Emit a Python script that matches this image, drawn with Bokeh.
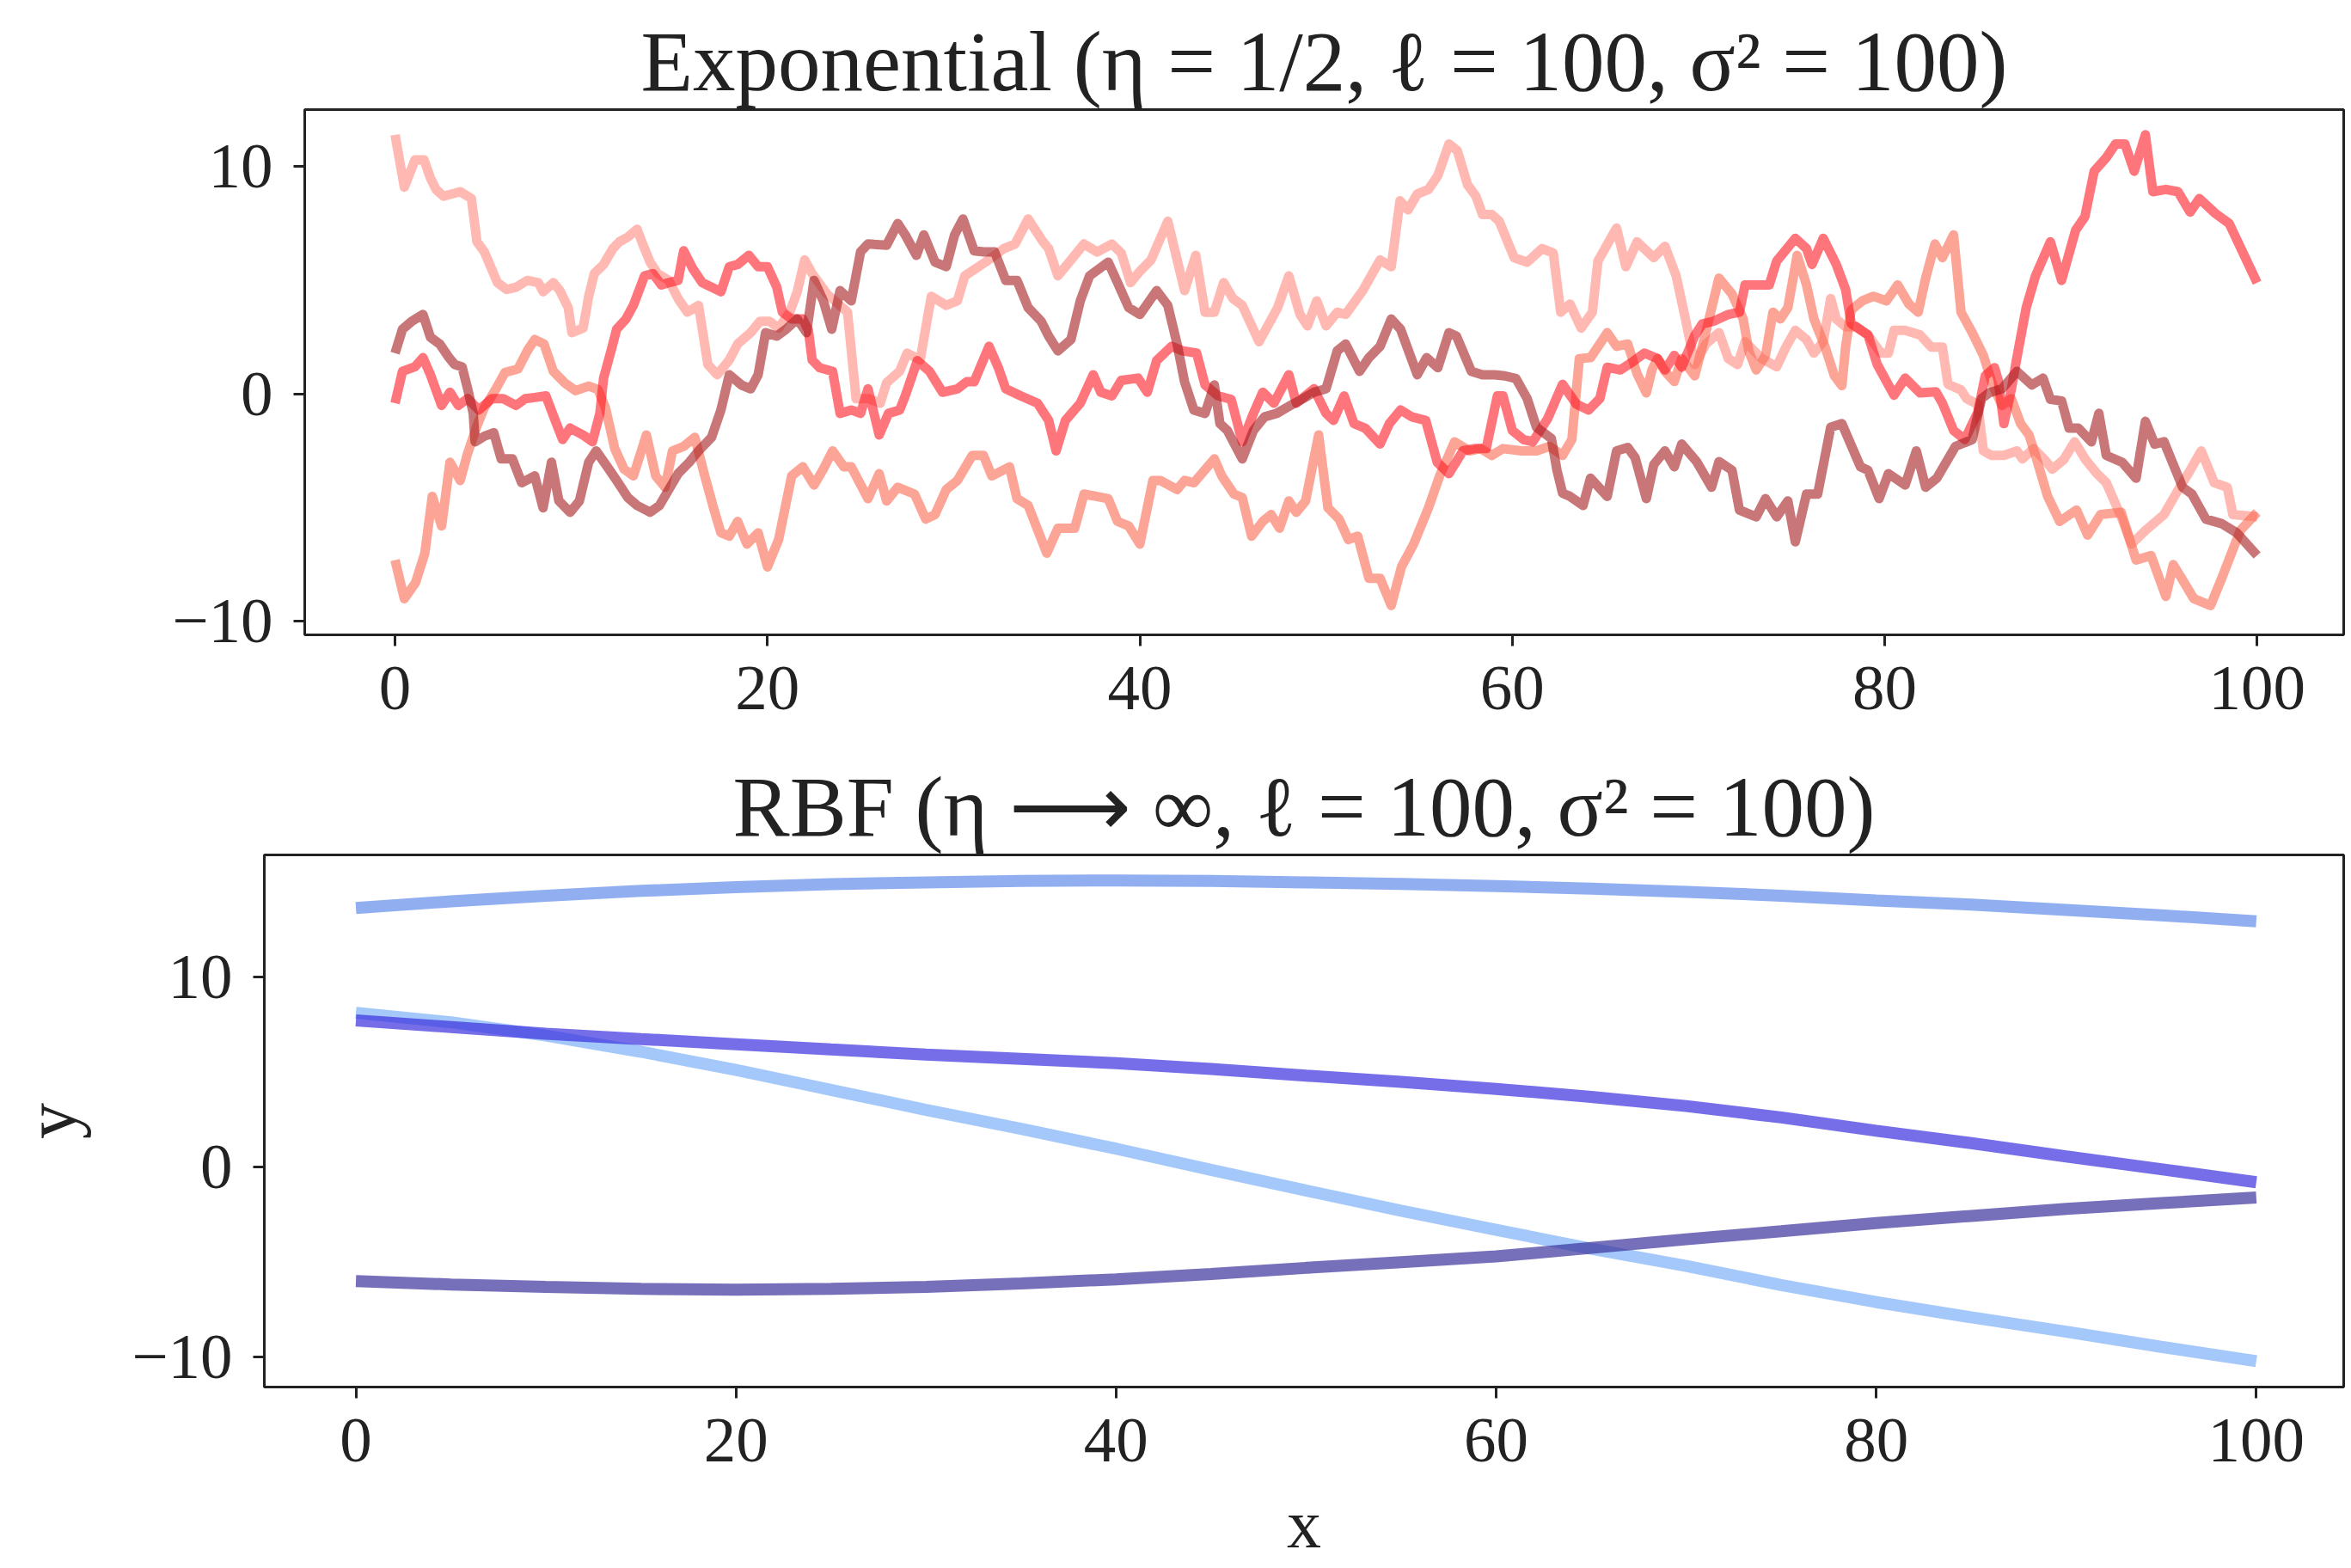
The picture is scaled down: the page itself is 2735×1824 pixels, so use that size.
from bokeh.plotting import figure
from bokeh.models import FixedTicker
from bokeh.embed import file_html
from bokeh.resources import INLINE

# ---------------- data: Exponential kernel samples (traced vertices) ----------------
exp_pink_x = [0, 0.5, 1.07, 1.56, 1.9, 2.2, 2.6, 3.5, 4.1, 4.4, 4.8, 5.5, 6.0, 6.5, 7.1, 7.7, 7.95, 8.5, 8.85, 9.3,
              9.5, 10.1, 10.4, 10.7, 11.2, 11.7, 12.05, 12.5, 13.0, 13.3, 13.7, 14.1, 14.7, 15.2, 15.7, 16.3, 16.8, 17.3, 17.95, 18.4,
              19.1, 19.6, 20.1, 20.6, 21.2, 21.6, 22.0, 22.4, 23.2, 24.3, 24.76, 25.4, 26.06, 26.4, 27.1, 27.5, 28.2, 28.8, 29.6, 30.2,
              30.6, 31.7, 32.7, 33.3, 34.0, 34.8, 35.1, 35.6, 36.2, 37.0, 37.7, 38.5, 39.0, 39.5, 40.0, 40.6, 41.5, 42.4, 43.0, 43.5,
              44.0, 44.5, 45.0, 45.5, 46.4, 47.4, 48.0, 48.6, 49.0, 49.5, 50.0, 50.6, 51.05, 51.97, 52.9, 53.5, 53.97, 54.4, 54.9, 55.5,
              56.0, 56.6, 57.05, 57.6, 58.05, 58.4, 58.9, 59.3, 59.8, 60.1, 60.8, 61.6, 62.2, 62.6, 63.1, 63.7, 64.3, 64.6, 65.6, 66.1,
              66.7, 67.6, 68.2, 68.8, 69.3, 69.8, 70.4, 71.1, 71.6, 72.1, 72.5, 73.4, 74.2, 74.7, 75.2, 75.8, 76.2, 76.7, 77.1, 77.4,
              77.9, 78.5, 79.1, 79.8, 80.2, 80.5, 81.1, 81.9, 82.5, 83.1, 83.4, 84.1, 84.4, 85.0, 85.3, 85.75, 86.4, 87.1, 87.4, 88.0,
              88.6, 89.0, 89.6, 90.2, 90.8, 91.4, 91.9, 92.75, 93.25, 94.0, 95.0, 95.7, 96.3, 97.0, 97.7, 98.4, 98.7, 100.0]
exp_pink_y = [11.4, 9.1, 10.3, 10.3, 9.5, 9.0, 8.7, 8.9, 8.6, 6.7, 6.25, 4.9, 4.6, 4.7, 5.0, 4.9, 4.5, 4.9, 4.55, 3.8,
              2.7, 2.9, 4.3, 5.3, 5.7, 6.4, 6.7, 6.9, 7.25, 6.6, 5.8, 5.3, 5.0, 4.2, 3.6, 3.9, 1.3, 0.85, 1.5, 2.2,
              2.7, 3.2, 3.2, 2.9, 3.6, 4.5, 5.9, 5.3, 4.4, 3.6, -0.2, -0.2, -0.4, 0.5, 1.0, 1.8, 1.5, 4.3, 3.9, 4.1,
              5.2, 5.8, 6.4, 6.6, 7.7, 6.7, 6.4, 5.2, 5.8, 6.6, 6.25, 6.6, 6.2, 4.9, 5.4, 5.9, 7.6, 4.55, 6.1, 3.6,
              3.6, 4.9, 4.2, 3.9, 2.3, 3.8, 5.2, 3.5, 3.0, 4.1, 3.0, 3.6, 3.5, 4.55, 5.9, 5.6, 8.5, 8.1, 8.8, 9.0,
              9.6, 11.0, 10.7, 9.2, 8.7, 7.9, 7.9, 7.6, 6.6, 6.0, 5.8, 6.4, 6.2, 3.6, 3.96, 2.9, 3.6, 5.85, 7.3, 5.6,
              6.7, 6.0, 6.5, 5.2, 3.3, 1.3, 2.2, 2.7, 1.56, 1.3, 2.3, 1.56, 1.2, 2.07, 2.8, 2.4, 1.8, 2.3, 4.2, 3.3,
              2.95, 2.95, 2.6, 1.8, 1.8, 2.8, 2.8, 2.6, 2.07, 2.07, 0.43, 0.18, -0.2, -0.45, -2.5, -2.7, -2.7, -2.5, -2.85, -2.4,
              -2.9, -3.3, -2.9, -2.1, -2.9, -3.5, -3.9, -5.5, -6.6, -6.0, -5.3, -4.3, -3.5, -2.5, -3.9, -4.1, -5.3, -5.4]

exp_salmon_x = [0, 0.5, 1.1, 1.6, 2.0, 2.5, 2.95, 3.5, 3.9, 4.4, 4.8, 5.4, 5.9, 6.6, 7.1, 7.5, 8.0, 8.5, 9.1, 9.7,
                10.4, 10.9, 11.3, 11.8, 12.3, 12.8, 13.5, 14.0, 14.5, 14.9, 15.5, 16.1, 16.6, 17.1, 17.5, 17.95, 18.4, 18.9, 19.5, 20.0,
                20.6, 21.3, 21.9, 22.5, 23.0, 23.5, 24.1, 24.5, 25.4, 26.0, 26.4, 27.0, 27.9, 28.5, 29.0, 29.6, 30.2, 31.0, 31.6, 32.05,
                33.0, 33.4, 34.0, 35.0, 35.6, 36.5, 37.0, 38.3, 38.8, 39.4, 40.0, 40.7, 41.1, 42.0, 42.4, 42.9, 44.0, 44.4, 45.05, 45.5,
                46.0, 46.6, 47.05, 47.5, 48.0, 48.4, 48.9, 49.6, 50.1, 50.7, 51.2, 51.7, 52.3, 52.9, 53.5, 54.05, 54.7, 55.5, 56.1, 56.9,
                57.7, 58.3, 58.9, 59.5, 60.5, 61.3, 62.0, 62.7, 63.2, 63.6, 64.2, 64.7, 65.1, 65.6, 66.2, 66.7, 67.2, 67.5, 67.8, 68.2,
                68.7, 69.1, 69.8, 70.2, 71.1, 71.8, 72.4, 72.7, 73.1, 73.6, 74.0, 74.4, 74.8, 75.3, 75.8, 76.2, 76.8, 77.3, 77.7, 77.9,
                78.2, 78.8, 79.4, 80.1, 80.7, 81.3, 81.8, 82.2, 82.7, 83.1, 83.7, 84.1, 84.7, 85.3, 85.8, 86.3, 86.8, 87.3, 87.75, 88.1,
                88.75, 89.4, 90.3, 90.9, 91.6, 92.7, 93.5, 94.3, 95.1, 95.5, 96.6, 97.5, 98.1, 99.1, 100.0]
exp_salmon_y = [-7.3, -9.0, -8.3, -7.0, -4.5, -5.8, -3.0, -3.8, -2.6, -1.4, -0.6, 0.2, 0.95, 1.1, 1.9, 2.4, 2.2, 1.0, 0.5, 0.15,
                0.35, 0.2, -0.6, -2.4, -3.3, -3.6, -1.8, -3.6, -4.1, -2.5, -2.3, -1.9, -3.5, -5.0, -6.1, -6.25, -5.6, -6.6, -6.1, -7.6,
                -6.4, -3.6, -3.2, -4.0, -3.3, -2.5, -3.2, -3.2, -4.6, -3.5, -4.7, -4.1, -4.4, -5.5, -5.3, -4.2, -3.8, -2.7, -2.7, -3.6,
                -3.2, -4.6, -4.9, -7.0, -5.9, -5.9, -4.4, -4.6, -5.6, -5.8, -6.6, -3.8, -3.8, -4.2, -3.8, -3.9, -2.85, -3.6, -4.4, -4.55,
                -6.25, -5.6, -5.3, -5.9, -4.7, -5.2, -4.7, -1.8, -5.0, -5.5, -6.4, -6.25, -8.1, -8.1, -9.3, -7.6, -6.6, -5.0, -3.6, -2.1,
                -2.5, -2.4, -2.7, -2.4, -2.5, -2.5, -2.3, -2.7, -2.0, 1.56, 1.6, 2.2, 2.7, 2.1, 2.2, 0.9, 0.05, 1.06, 1.56, 1.0,
                0.55, 1.56, 0.8, 2.07, 5.1, 4.4, 3.3, 1.9, 1.06, 1.7, 3.6, 3.3, 3.8, 6.1, 4.8, 3.3, 2.07, 0.8, 0.37, 2.07,
                3.7, 4.1, 4.3, 4.1, 4.8, 3.96, 3.6, 5.1, 6.6, 6.0, 7.0, 3.6, 2.7, 1.7, 0.4, -0.5, -0.2, -1.3, -1.8, -2.7,
                -4.5, -5.6, -5.1, -6.2, -5.3, -5.2, -7.3, -7.1, -8.9, -7.5, -9.0, -9.3, -8.1, -6.0, -5.2]

exp_red_x = [0, 0.4, 1.07, 1.5, 1.9, 2.5, 2.95, 3.4, 3.9, 4.5, 5.2, 5.8, 6.5, 7.0, 7.5, 8.1, 8.6, 9.0, 9.4, 10.1,
             10.6, 11.0, 11.2, 11.6, 11.9, 12.4, 12.8, 13.4, 13.85, 14.3, 14.7, 15.2, 15.5, 16.0, 16.5, 17.5, 17.95, 18.4, 19.0, 19.5,
             20.0, 20.5, 20.8, 21.3, 21.9, 22.2, 22.4, 22.8, 23.5, 23.9, 24.5, 25.0, 25.4, 26.0, 26.5, 27.1, 27.4, 28.05, 28.7, 29.4,
             30.2, 30.7, 31.1, 31.9, 32.4, 32.8, 33.6, 34.5, 35.1, 35.5, 36.0, 36.8, 37.5, 37.9, 38.5, 39.0, 39.9, 40.4, 40.9, 41.7,
             42.3, 43.05, 43.5, 44.2, 44.9, 45.5, 46.1, 46.6, 47.2, 48.0, 48.4, 49.35, 50.0, 50.4, 50.97, 51.5, 52.1, 52.9, 53.4, 54.0,
             54.6, 55.35, 55.97, 56.6, 57.35, 57.97, 58.6, 59.2, 59.5, 60.0, 60.6, 61.1, 61.9, 62.7, 63.45, 64.1, 64.7, 65.1, 65.8, 66.5,
             67.1, 67.8, 68.2, 68.7, 69.1, 69.8, 70.2, 70.8, 71.6, 72.2, 72.5, 73.8, 74.2, 75.2, 75.8, 76.1, 76.7, 77.4, 77.9, 78.2,
             79.1, 79.6, 80.5, 81.1, 81.9, 82.75, 83.1, 83.7, 84.3, 85.0, 85.4, 85.9, 86.1, 86.4, 86.8, 87.1, 87.6, 88.1, 88.9, 89.5,
             90.25, 90.75, 91.25, 91.9, 92.4, 92.9, 93.4, 94.0, 94.4, 95.1, 95.75, 96.4, 96.9, 97.75, 98.5, 100.0]
exp_red_y = [-0.4, 1.0, 1.2, 1.6, 0.85, -0.5, 0.08, -0.5, -0.2, -0.7, -0.2, -0.2, -0.5, -0.2, -0.15, -0.08, -1.16, -2.0, -1.5, -1.8,
             -2.1, -0.85, 0.7, 1.9, 2.85, 3.3, 3.9, 5.2, 5.3, 4.8, 4.9, 5.0, 6.3, 5.5, 4.9, 4.5, 5.6, 5.7, 6.1, 5.6,
             5.6, 4.7, 3.6, 3.3, 3.3, 2.8, 1.5, 1.16, 1.0, -0.85, -0.7, -0.85, 0.23, -1.8, -0.85, -0.7, -0.08, 1.47, 1.0, 0.08,
             0.23, 0.54, 0.54, 2.1, 1.16, 0.23, -0.08, -0.4, -1.16, -2.5, -1.16, -0.4, 0.85, 0.08, -0.08, 0.6, 0.7, 0.08, 1.47, 2.1,
             1.9, 1.8, 0.4, -0.08, -0.23, -2.1, -0.85, 0.08, -0.4, 0.85, -0.4, 0.23, -0.85, -1.16, -0.08, -1.3, -1.5, -2.2, -1.3, -0.7,
             -1.0, -1.16, -3.0, -3.5, -2.5, -2.4, -2.4, -0.08, -0.08, -1.6, -2.0, -2.1, -1.08, 0.43, -0.45, -0.7, -0.2, 1.18, 1.06, 1.44,
             1.8, 1.56, 1.06, 1.7, 1.18, 2.57, 3.08, 3.2, 3.5, 3.6, 4.8, 4.8, 5.85, 6.85, 6.4, 5.7, 6.85, 5.7, 4.6, 3.1,
             2.6, 1.3, -0.05, 0.7, 0.05, 0.1, -0.4, -1.6, -2.0, -0.8, 0.8, 1.16, 0.6, -1.3, 0.2, 1.6, 3.8, 5.2, 6.7, 5.0,
             7.2, 7.8, 9.8, 10.4, 11.0, 11.0, 9.8, 11.4, 8.9, 9.0, 8.9, 8.0, 8.6, 7.95, 7.5, 4.9]

exp_dark_x = [0, 0.4, 0.9, 1.5, 1.9, 2.4, 2.9, 3.2, 3.6, 3.9, 4.2, 4.3, 4.8, 5.3, 5.7, 6.3, 6.8, 7.5, 7.95, 8.4,
              8.8, 9.4, 9.9, 10.4, 10.8, 11.4, 11.9, 12.5, 13.0, 13.7, 14.2, 14.7, 15.2, 15.8, 16.3, 17.0, 17.5, 17.95, 18.6, 19.1,
              19.5, 19.9, 20.5, 21.0, 21.6, 22.1, 22.5, 23.0, 23.45, 23.9, 24.5, 25.0, 25.4, 26.4, 27.0, 27.4, 28.0, 28.4, 29.0, 29.6,
              30.05, 30.5, 31.1, 31.6, 32.2, 32.8, 33.4, 34.0, 34.7, 35.1, 35.6, 36.3, 36.8, 37.3, 38.3, 38.8, 39.4, 40.0, 40.9, 41.5,
              42.0, 42.4, 42.9, 43.5, 44.0, 44.3, 44.7, 45.5, 46.1, 46.7, 47.35, 48.0, 48.7, 49.35, 50.0, 50.6, 51.05, 51.8, 52.3, 52.9,
              53.5, 54.0, 54.9, 55.4, 56.0, 56.6, 57.0, 57.8, 58.4, 59.05, 59.6, 60.2, 60.8, 61.3, 62.1, 62.4, 62.7, 63.1, 63.8, 64.2,
              65.1, 65.6, 66.2, 66.6, 67.2, 67.6, 68.2, 68.7, 69.1, 69.9, 70.7, 71.1, 71.8, 72.2, 73.1, 73.6, 74.2, 74.8, 75.2, 75.8,
              76.4, 77.1, 77.7, 78.7, 79.1, 79.7, 80.2, 81.1, 81.7, 82.2, 82.8, 83.8, 84.7, 85.2, 85.6, 86.3, 87.1, 87.9, 88.5, 88.9,
              89.5, 89.9, 90.4, 91.1, 91.5, 91.9, 92.75, 93.5, 94.0, 94.5, 95.0, 95.7, 96.0, 96.5, 97.25, 98.1, 98.9, 100.0]
exp_dark_y = [1.8, 2.85, 3.2, 3.5, 2.5, 2.2, 1.6, 1.3, 1.2, 0.23, -0.85, -2.1, -1.85, -1.7, -2.85, -2.85, -3.9, -3.6, -5.0, -3.0,
              -4.7, -5.2, -4.7, -3.0, -2.5, -3.2, -3.8, -4.55, -4.9, -5.2, -4.9, -4.2, -3.5, -3.0, -2.5, -1.9, -0.7, 0.85, 0.4, 0.23,
              0.85, 2.7, 2.55, 2.85, 3.3, 2.7, 5.0, 4.1, 2.85, 4.55, 4.1, 6.25, 6.6, 6.55, 7.5, 7.0, 6.1, 7.0, 5.8, 5.6,
              7.0, 7.7, 6.3, 6.25, 6.25, 5.0, 5.0, 3.8, 3.2, 2.55, 1.9, 2.4, 4.1, 5.2, 5.8, 4.9, 3.8, 3.5, 4.55, 3.9,
              2.2, 0.54, -0.7, -0.85, 0.4, -1.3, -1.6, -2.85, -1.6, -1.0, -0.85, -0.54, -0.23, 0.08, 0.23, 1.9, 2.2, 1.0, 1.6, 2.1,
              3.3, 2.85, 0.85, 1.6, 1.16, 2.7, 2.55, 1.0, 0.85, 0.85, 0.8, 0.68, -0.2, -1.46, -1.96, -3.35, -4.36, -4.5, -4.9, -3.7,
              -4.5, -2.5, -2.35, -2.8, -4.6, -3.1, -2.5, -3.2, -2.2, -2.97, -4.1, -2.97, -3.35, -5.1, -5.4, -4.6, -5.4, -4.7, -6.5, -4.4,
              -4.4, -1.46, -1.3, -3.2, -3.35, -4.6, -3.5, -4.0, -2.5, -4.1, -3.7, -2.3, -2.0, -0.2, 0.05, 0.23, 1.0, 0.4, 0.7, -0.23,
              -0.3, -1.5, -1.5, -2.1, -0.85, -2.7, -3.0, -3.7, -1.2, -2.2, -2.1, -3.5, -4.1, -4.4, -5.5, -5.7, -6.1, -7.1]

# ---------------- data: RBF kernel samples ----------------
rbf_x = [0, 5, 10, 15, 20, 25, 30, 35, 40, 45, 50, 55, 60, 65, 70, 75, 80, 85, 90, 95, 100]
rbf_top = [13.6, 13.95, 14.25, 14.5, 14.7, 14.85, 14.95, 15.02, 15.05, 15.02, 14.95, 14.87, 14.75, 14.62, 14.45, 14.25, 14.0, 13.78, 13.5, 13.22, 12.9]
rbf_mid = [7.7, 7.35, 7.0, 6.72, 6.45, 6.17, 5.9, 5.68, 5.45, 5.15, 4.8, 4.47, 4.1, 3.68, 3.2, 2.6, 1.9, 1.25, 0.55, -0.12, -0.8]
rbf_fall = [8.1, 7.6, 6.9, 6.05, 5.1, 4.05, 3.0, 2.0, 0.96, -0.15, -1.24, -2.3, -3.3, -4.3, -5.2, -6.2, -7.1, -7.9, -8.65, -9.45, -10.2]
rbf_low = [-6.0, -6.17, -6.3, -6.4, -6.45, -6.4, -6.3, -6.12, -5.9, -5.62, -5.3, -5.0, -4.7, -4.25, -3.8, -3.38, -2.95, -2.57, -2.2, -1.9, -1.6]

x_ticks = [0, 20, 40, 60, 80, 100]
y_ticks = [-10, 0, 10]
y_tick_labels = {-10: "\u221210", 0: "0", 10: "10"}

title_top = "Exponential (\u03b7 = 1/2, \u2113 = 100, \u03c3\u00b2 = 100)"
title_bottom = "RBF (\u03b7 \u27f6 \u221e, \u2113 = 100, \u03c3\u00b2 = 100)"

FONT = "Liberation Serif"
W = 2735


def style(p, title):
    p.title.text = title
    p.title.align = "center"
    p.title.text_font = FONT
    p.title.text_font_size = "99px"
    p.title.text_font_style = "normal"
    p.title.text_color = "#222222"
    p.title.standoff = 4
    p.outline_line_color = "#222222"
    p.outline_line_width = 3
    p.outline_line_alpha = 1.0
    p.xgrid.visible = False
    p.ygrid.visible = False
    p.background_fill_color = "white"
    p.border_fill_color = "white"
    for ax in (p.xaxis[0], p.yaxis[0]):
        ax.axis_line_color = None
        ax.major_tick_out = 13
        ax.major_tick_in = 0
        ax.major_tick_line_width = 3
        ax.major_tick_line_color = "#222222"
        ax.minor_tick_line_color = None
        ax.major_label_text_font = FONT
        ax.major_label_text_font_size = "75px"
        ax.major_label_text_color = "#222222"
        ax.major_label_standoff = 24
        ax.axis_label_text_font = FONT
        ax.axis_label_text_font_size = "84px"
        ax.axis_label_text_font_style = "normal"
        ax.axis_label_text_color = "#222222"
    p.xaxis[0].ticker = FixedTicker(ticks=x_ticks)
    p.yaxis[0].ticker = FixedTicker(ticks=y_ticks)
    p.yaxis[0].major_label_overrides = y_tick_labels


top_h = 870
p1 = figure(width=W, height=top_h, x_range=(-4.85, 104.65), y_range=(-10.59, 12.51),
            output_backend="svg", toolbar_location=None,
            min_border_left=354, min_border_right=9, min_border_top=127, min_border_bottom=top_h - 127 - 611)
style(p1, title_top)

LW_TOP = 11
p1.line(exp_pink_x, exp_pink_y, line_color="#ff8a7f", line_alpha=0.6, line_width=LW_TOP, line_join="round")
p1.line(exp_salmon_x, exp_salmon_y, line_color="#fa6950", line_alpha=0.6, line_width=LW_TOP, line_join="round")
p1.line(exp_red_x, exp_red_y, line_color="#ff111e", line_alpha=0.58, line_width=LW_TOP, line_join="round")
p1.line(exp_dark_x, exp_dark_y, line_color="#a31b1e", line_alpha=0.6, line_width=LW_TOP, line_join="round")

bot_h = 1824 - top_h
p2 = figure(width=W, height=bot_h, x_range=(-4.82, 104.6), y_range=(-11.56, 16.39),
            output_backend="svg", toolbar_location=None,
            min_border_left=307, min_border_right=9, min_border_top=994 - top_h,
            min_border_bottom=1824 - 1613)
style(p2, title_bottom)
p2.xaxis[0].axis_label = "x"
p2.yaxis[0].axis_label = "y"
p2.xaxis[0].axis_label_text_font_size = "80px"
p2.xaxis[0].major_label_standoff = 24
p2.xaxis[0].axis_label_standoff = 26
p2.yaxis[0].axis_label_standoff = 44

LW_BOT = 14
p2.line(rbf_x, rbf_top, line_color="#628dea", line_alpha=0.7, line_width=LW_BOT)
p2.line(rbf_x, rbf_fall, line_color="#7eb0f8", line_alpha=0.7, line_width=LW_BOT)
p2.line(rbf_x, rbf_mid, line_color="#3b30de", line_alpha=0.7, line_width=LW_BOT)
p2.line(rbf_x, rbf_low, line_color="#3b339b", line_alpha=0.7, line_width=LW_BOT)

html = file_html([p1, p2], INLINE)
html = html.replace("<body>", "<body style=\"margin:0;overflow:hidden\">", 1)
open("out.html", "w").write(html)
